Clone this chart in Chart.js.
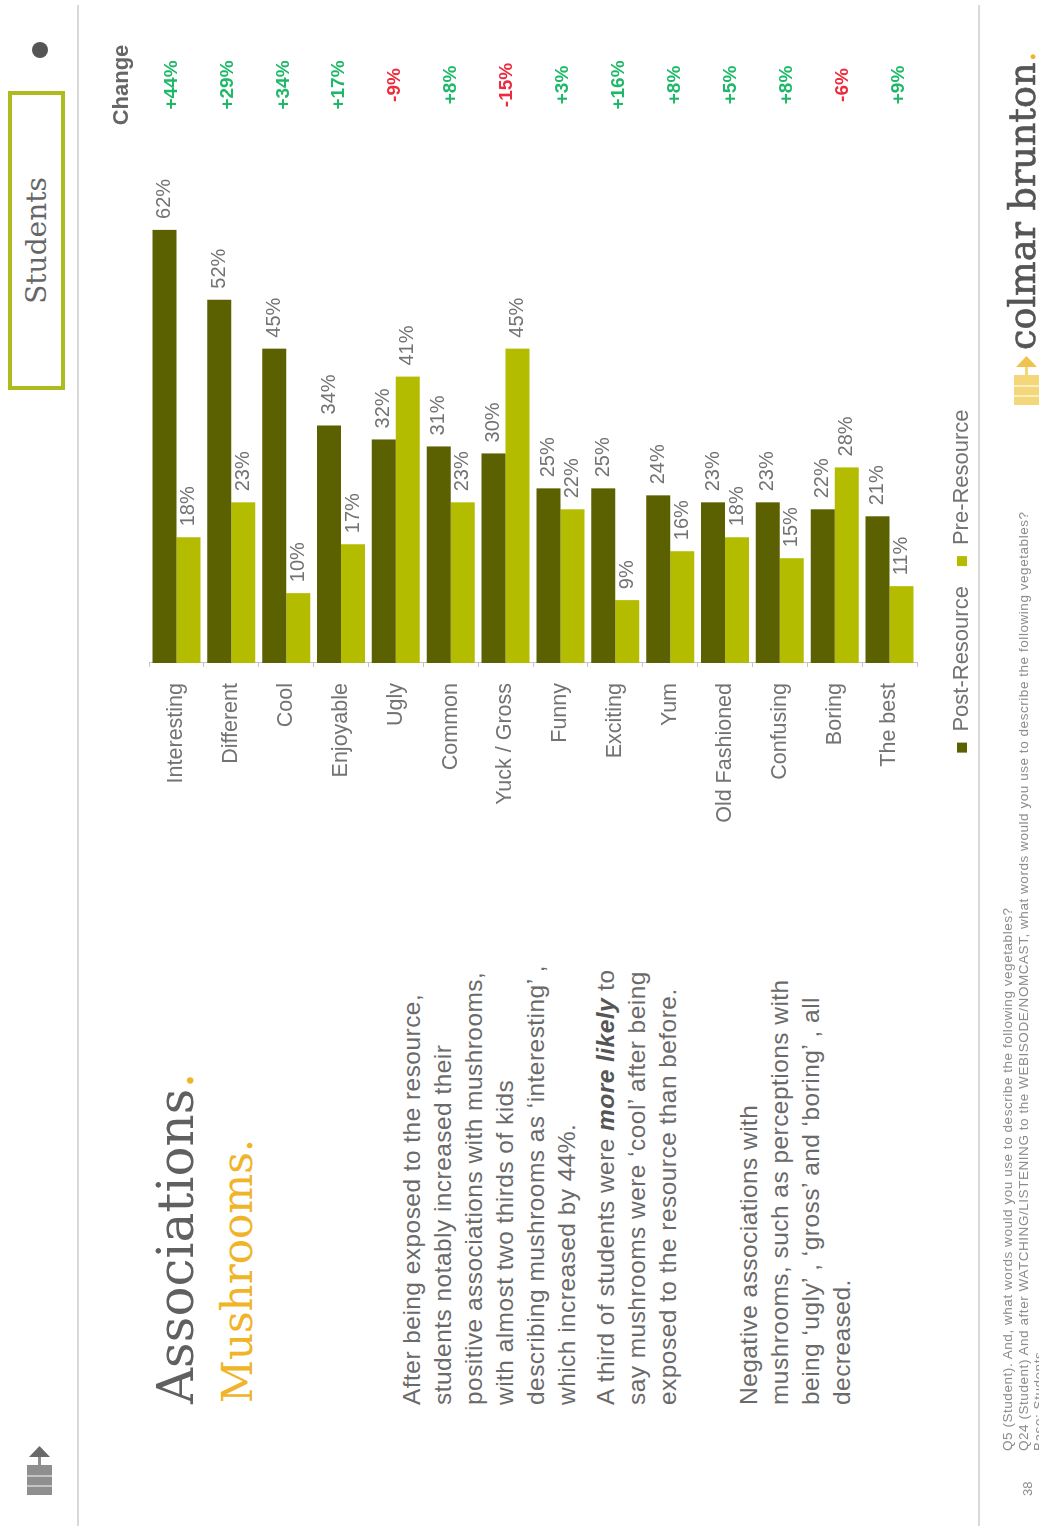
<!DOCTYPE html>
<html>
<head>
<meta charset="utf-8">
<title>Associations. Mushrooms.</title>
<script src="https://cdn.jsdelivr.net/npm/chart.js@4/dist/chart.umd.min.js"></script>
<style>
  html, body { margin: 0; padding: 0; background: #fff; width: 1039px; height: 1526px; overflow: hidden; }
  /* The slide is laid out landscape and turned a quarter left */
  #slide { position: absolute; left: 0; top: 1526px; width: 1526px; height: 1039px; transform-origin: 0 0; transform: rotate(-90deg); font-family: "Liberation Sans", Arial, sans-serif; color: #666; }
  #slide > * { position: absolute; }
  #chart { left: 538px; top: 0; }
  .rule { background: #d9d9d9; height: 2px; left: 0; width: 1521px; }
  #tag { left: 1136px; top: 8px; width: 291px; height: 49px; border: 4px solid #aebb1f; text-align: center; font: 28px/49px "DejaVu Serif", serif; color: #666; }
  #dot { left: 1468px; top: 32px; width: 16px; height: 16px; border-radius: 50%; background: #555; }
  .title { font-family: "DejaVu Serif", serif; white-space: nowrap; }
  .title b { font-weight: 400; color: #f0b429; }
  #t1 { left: 122px; top: 146px; font-size: 50px; line-height: 60px; color: #606060; }
  #t2 { left: 123px; top: 211px; font-size: 42px; line-height: 54px; color: #f0b429; }
  .para { left: 121px; font-size: 24.5px; letter-spacing: 0.45px; line-height: 31px; white-space: nowrap; color: #6a6a6a; }
  .para b { color: #555; font-style: italic; }
  #p1 { top: 396px; }
  #p2 { top: 590px; }
  #p3 { top: 733px; }
  #notes { left: 75px; top: 1000px; font-size: 13.5px; letter-spacing: 0.55px; line-height: 15.5px; white-space: nowrap; color: #8c8c8c; }
  #page { left: 30px; top: 1020px; font-size: 13px; color: #8c8c8c; }
  #brand { left: 1176px; top: 998px; font: 36.5px/50px "DejaVu Serif", serif; color: #555; -webkit-text-stroke: 0.7px #555; white-space: nowrap; }
  #brand b { font-weight: 400; color: #f0b429; -webkit-text-stroke: 0; }
  .mark { display: block; }
</style>
</head>
<body>
<div id="slide">
  <div class="rule" style="top:77px"></div>
  <div class="rule" style="top:978px"></div>
  <div id="tag">Students</div>
  <div id="dot"></div>

  <svg class="mark" style="left:31px;top:27px" width="50" height="25" viewBox="0 0 50 25" fill="#8f8f8f">
    <rect x="0" y="0" width="30" height="25"/><rect x="30" y="11" width="10" height="3"/><path d="M38 2 L49 12.5 L38 23 Z" fill="#6a6a6a"/>
    <rect x="8" y="0" width="2" height="25" fill="#c4c4c4"/><rect x="18" y="0" width="2" height="25" fill="#c4c4c4"/>
  </svg>
  <svg class="mark" style="left:1121px;top:1014px" width="50" height="25" viewBox="0 0 50 25" fill="#f3d77a">
    <rect x="0" y="0" width="30" height="25"/><rect x="30" y="11" width="10" height="3"/><path d="M38 2 L49 12.5 L38 23 Z" fill="#eec34e"/>
    <rect x="8" y="0" width="2" height="25" fill="#fbeebd"/><rect x="18" y="0" width="2" height="25" fill="#fbeebd"/>
  </svg>

  <div id="t1" class="title">Associations<b>.</b></div>
  <div id="t2" class="title">Mushrooms.</div>

  <div id="p1" class="para">After being exposed to the resource,<br>students notably increased their<br>positive associations with mushrooms,<br>with almost two thirds of kids<br>describing mushrooms as ‘interesting’ ,<br>which increased by 44%.</div>
  <div id="p2" class="para">A third of students were <b>more likely</b> to<br>say mushrooms were ‘cool’ after being<br>exposed to the resource than before.</div>
  <div id="p3" class="para">Negative associations with<br>mushrooms, such as perceptions with<br>being ‘ugly’ , ‘gross’ and ‘boring’ , all<br>decreased.</div>

  <canvas id="chart" width="988" height="1039"></canvas>

  <div id="notes">Q5 (Student). And, what words would you use to describe the following vegetables?<br>Q24 (Student) And after WATCHING/LISTENING to the WEBISODE/NOMCAST, what words would you use to describe the following vegetables?<br>Base: Students</div>
  <div id="page">38</div>
  <div id="brand">colmar brunton<b>.</b></div>
</div>

<script>
var categories = ['Interesting', 'Different', 'Cool', 'Enjoyable', 'Ugly', 'Common', 'Yuck / Gross', 'Funny', 'Exciting', 'Yum', 'Old Fashioned', 'Confusing', 'Boring', 'The best'];
var postResource = [62, 52, 45, 34, 32, 31, 30, 25, 25, 24, 23, 23, 22, 21];
var preResource = [18, 23, 10, 17, 41, 23, 45, 22, 9, 16, 18, 15, 28, 11];
var changeLabels = ['+44%', '+29%', '+34%', '+17%', '-9%', '+8%', '-15%', '+3%', '+16%', '+8%', '+5%', '+8%', '-6%', '+9%'];

var DARK = '#5b6000';
var LIGHT = '#b4bc00';
var GREY = '#737373';

// Value at the end of each bar, plus the change column out to the right
var barText = {
  id: 'barText',
  afterDatasetsDraw: function (chart) {
    var ctx = chart.ctx;
    ctx.save();
    ctx.textBaseline = 'middle';
    ctx.textAlign = 'left';
    ctx.font = '20px "Liberation Sans", Arial, sans-serif';
    ctx.fillStyle = GREY;
    chart.data.datasets.forEach(function (ds, d) {
      chart.getDatasetMeta(d).data.forEach(function (bar, i) {
        ctx.fillText(ds.data[i] + '%', bar.x + 11, bar.y);
      });
    });

    var colX = chart.scales.x.right + 89;
    ctx.textAlign = 'center';
    ctx.font = 'bold 19px "Liberation Sans", Arial, sans-serif';
    changeLabels.forEach(function (txt, i) {
      // the change rows are spaced slightly wider than the bar groups
      var y = chart.scales.y.getPixelForValue(i) - 5 + i * 1.08;
      ctx.fillStyle = txt.charAt(0) === '-' ? '#ee2b3c' : '#1fb868';
      ctx.fillText(txt, colX, y);
    });
    ctx.font = 'bold 22px "Liberation Sans", Arial, sans-serif';
    ctx.fillStyle = '#666';
    ctx.fillText('Change', colX, 122);
    ctx.restore();
  }
};

new Chart(document.getElementById('chart').getContext('2d'), {
  type: 'bar',
  data: {
    labels: categories,
    datasets: [
      { label: 'Post-Resource', data: postResource, backgroundColor: DARK },
      { label: 'Pre-Resource', data: preResource, backgroundColor: LIGHT }
    ]
  },
  options: {
    indexAxis: 'y',
    responsive: false,
    animation: false,
    datasets: { bar: { barPercentage: 1, categoryPercentage: 0.875 } },
    layout: { padding: { left: 0, right: 174, top: 149, bottom: 56 } },
    scales: {
      x: {
        min: 0,
        max: 70,
        ticks: { display: false },
        grid: { display: false, drawTicks: false },
        border: { display: false },
        afterFit: function (scale) { scale.height = 14; }
      },
      y: {
        ticks: { autoSkip: false, color: GREY, padding: 16, font: { family: '"Liberation Sans", Arial, sans-serif', size: 21.5 } },
        grid: { offset: true, drawOnChartArea: false, tickLength: 4, color: '#c4c4c4' },
        border: { color: '#c4c4c4' },
        afterFit: function (scale) { scale.width = 325; }
      }
    },
    plugins: {
      tooltip: { enabled: false },
      legend: {
        position: 'bottom',
        labels: { boxWidth: 10, boxHeight: 10, padding: 20, color: GREY, font: { family: '"Liberation Sans", Arial, sans-serif', size: 22 } }
      }
    }
  },
  plugins: [barText]
});
</script>
</body>
</html>
